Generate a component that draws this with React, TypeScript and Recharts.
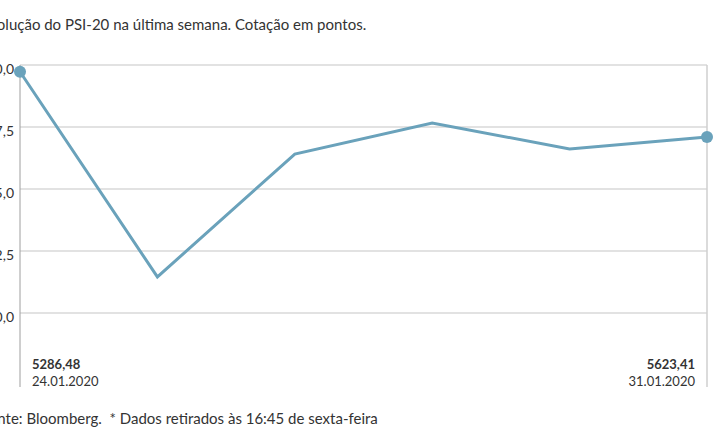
import React from 'react'
import { LineChart, Line, XAxis, YAxis, CartesianGrid } from 'recharts'

const dates = ['24.01.2020', '27.01.2020', '28.01.2020', '29.01.2020', '30.01.2020', '31.01.2020']
const values = [5286.48, 5178.9, 5243.3, 5259.6, 5246.0, 5252.3]
const yTicks = [5160, 5192.5, 5225, 5257.5, 5290]
const firstLabel = { value: '5286,48', date: '24.01.2020' }
const lastLabel = { value: '5623,41', date: '31.01.2020' }

const data = dates.map((d, i) => ({ data: d, valor: values[i] }))

const lineColor = '#6aa2bb'
const font = 'Lato, "Noto Sans", sans-serif'

const fmt = (v: number) => v.toFixed(1).replace('.', ',')

const EndDot = (props: any) => {
  const { cx, cy, index } = props
  if (index !== 0 && index !== values.length - 1) return <g key={index} />
  return <circle key={index} cx={cx} cy={cy} r={6} fill={lineColor} />
}

export default function App() {
  return (
    <div
      style={{
        position: 'absolute',
        left: 0,
        top: 0,
        width: 715,
        height: 445,
        overflow: 'hidden',
        fontFamily: font,
        color: '#333',
        background: '#fff',
      }}
    >
      <div style={{ position: 'absolute', left: -19, top: 15, fontSize: 15, whiteSpace: 'nowrap' }}>
        Evolução do PSI-20 na última semana. Cotação em pontos.
      </div>

      <LineChart
        width={715}
        height={445}
        data={data}
        margin={{ top: 65, right: 0, bottom: 58, left: 0 }}
        style={{ position: 'absolute', left: 0, top: 0 }}
      >
        <CartesianGrid yAxisId="l" vertical={false} stroke="#d9d9d9" strokeWidth={1.5} horizontalValues={yTicks} />
        <XAxis dataKey="data" hide />
        <YAxis
          yAxisId="l"
          width={20}
          domain={[5121.2, 5290]}
          ticks={yTicks}
          interval={0}
          allowDataOverflow
          tickFormatter={fmt}
          tickLine={false}
          tickSize={0}
          tickMargin={6}
          axisLine={{ stroke: '#9e9e9e', strokeWidth: 1 }}
          tick={{ fill: '#333', fontSize: 14, fontFamily: font, dy: 4 }}
        />
        <YAxis
          yAxisId="r"
          orientation="right"
          width={8}
          domain={[5121.2, 5290]}
          tick={false}
          tickLine={false}
          axisLine={{ stroke: '#cfcfcf', strokeWidth: 1.5 }}
        />
        <Line
          yAxisId="l"
          type="linear"
          dataKey="valor"
          stroke={lineColor}
          strokeWidth={3}
          dot={EndDot}
          activeDot={false}
          isAnimationActive={false}
        />
      </LineChart>

      <div style={{ position: 'absolute', left: 32, top: 356, fontSize: 13, lineHeight: '17px' }}>
        <div style={{ fontWeight: 700 }}>{firstLabel.value}</div>
        <div>{firstLabel.date}</div>
      </div>
      <div style={{ position: 'absolute', right: 20, top: 356, fontSize: 13, lineHeight: '17px', textAlign: 'right' }}>
        <div style={{ fontWeight: 700 }}>{lastLabel.value}</div>
        <div>{lastLabel.date}</div>
      </div>

      <div style={{ position: 'absolute', left: -19, top: 409, fontSize: 15, whiteSpace: 'nowrap' }}>
        Fonte: Bloomberg.&nbsp; * Dados retirados às 16:45 de sexta-feira
      </div>
    </div>
  )
}
